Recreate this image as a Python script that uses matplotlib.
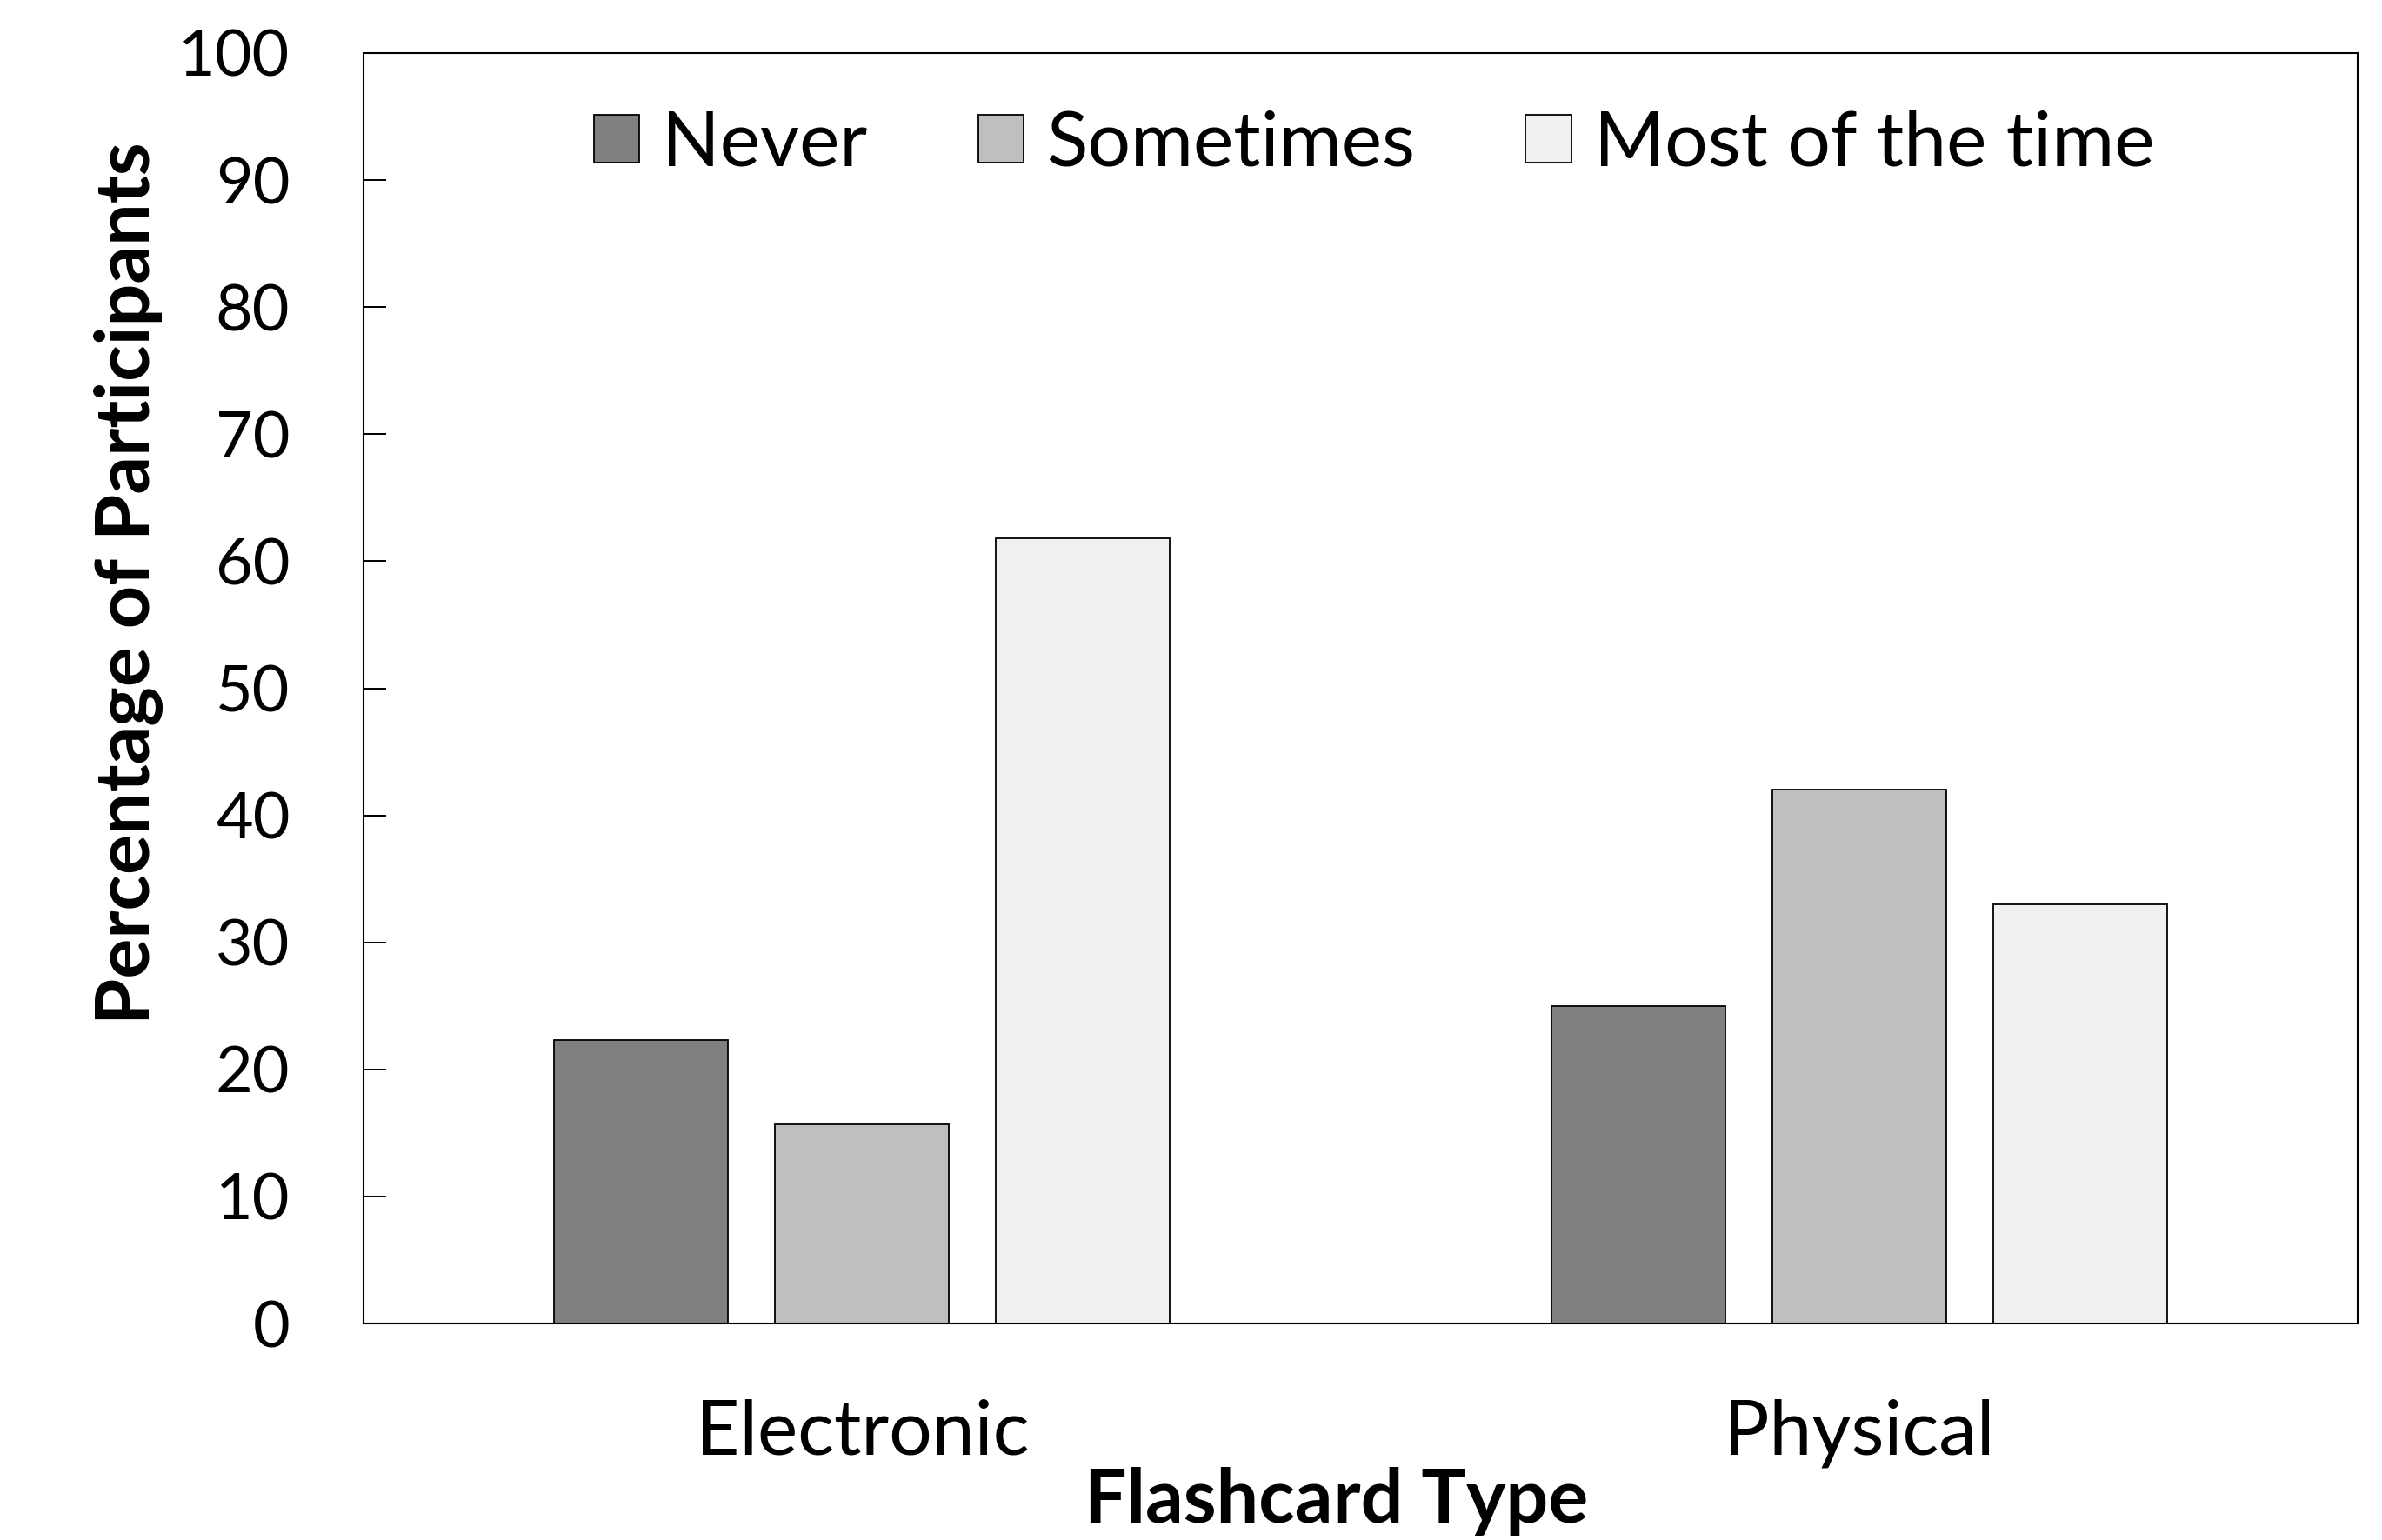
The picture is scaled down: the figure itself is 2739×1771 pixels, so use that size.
import matplotlib
matplotlib.use("Agg")
import matplotlib.pyplot as plt
import numpy as np

categories = ["Electronic", "Physical"]
series_names = ["Never", "Sometimes", "Most of the time"]
never = [22.3, 25.0]
sometimes = [15.7, 42.0]
most = [61.8, 33.0]
yticks = [0, 10, 20, 30, 40, 50, 60, 70, 80, 90, 100]

colors = ["#808080", "#BFBFBF", "#F0F0F0"]

plt.rcParams['font.family'] = ['Lato', 'DejaVu Sans']

W, H = 2739, 1771
fig = plt.figure(figsize=(W / 100, H / 100), dpi=100)
ax = fig.add_axes([418 / W, 1 - 1522 / H, (2711 - 418) / W, (1522 - 61) / H])

x = np.arange(len(categories))
width = 0.1744
offset = 0.2216
for i, (vals, name) in enumerate(zip([never, sometimes, most], series_names)):
    ax.bar(x + (i - 1) * offset, vals, width, color=colors[i], edgecolor="black",
           linewidth=1.3, label=name, zorder=2)

ax.set_xlim(-0.5, 1.5)
ax.set_ylim(0, 100)
ax.set_yticks(yticks)
ax.set_yticklabels([str(t) for t in yticks])
ax.set_xticks(x)
ax.set_xticklabels(categories)
ax.tick_params(axis='y', direction='in', length=19, width=1.4, pad=61, labelsize=53)
ax.tick_params(axis='x', length=0, pad=62, labelsize=63)
for s in ax.spines.values():
    s.set_linewidth(1.5)

fig.text(1537 / W, 1 - 1727 / H, "Flashcard Type", ha='center', va='center',
         fontsize=62, fontweight='bold')
fig.text(148 / W, 1 - 671 / H, "Percentage of Participants", ha='center', va='center',
         rotation=90, fontsize=62, fontweight='bold')

leg = fig.legend(loc='center', bbox_to_anchor=(1580 / W, 1 - 166 / H), ncol=3,
                 frameon=False, fontsize=63, handlelength=0.6, handleheight=0.6,
                 handletextpad=0.3, columnspacing=1.45)

fig.savefig("out.png", dpi=100)
